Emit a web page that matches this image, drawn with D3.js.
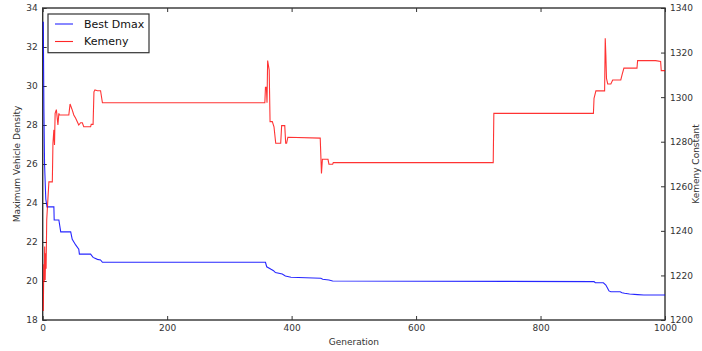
<!DOCTYPE html>
<html>
<head>
<meta charset="utf-8">
<script src="https://cdn.jsdelivr.net/npm/d3@7"></script>
<style>
  html, body { margin: 0; padding: 0; background: #fff; }
  svg { display: block; font-family: "DejaVu Sans", sans-serif; }
</style>
</head>
<body>
<svg id="chart" width="702" height="351"></svg>
<script>
// ---- Data ----
const dmaxGen = [0, 1, 2, 4, 6, 17, 17.5, 25, 28, 44, 46.5, 52, 57, 58, 76, 80, 87, 92, 95,
  357, 359, 366, 370, 373, 384, 389, 398, 446, 449, 459, 465,
  885, 887, 900, 904, 907, 909, 912, 927, 930, 934, 942, 955, 965, 1000];
const dmaxVal = [33.3, 28.8, 26.0, 24.2, 23.8, 23.8, 23.13, 23.13, 22.52, 22.52, 22.14, 21.85, 21.63, 21.38, 21.38, 21.21, 21.11, 21.08, 20.96,
  20.96, 20.73, 20.6, 20.53, 20.43, 20.36, 20.26, 20.19, 20.14, 20.09, 20.05, 20.0,
  19.97, 19.91, 19.91, 19.79, 19.62, 19.49, 19.45, 19.45, 19.40, 19.37, 19.33, 19.30, 19.28, 19.28];

const kemGen = [0, 0.8, 1.5, 2.2, 3, 3.8, 4.5, 5.5, 6.4, 9, 14.5, 15.5, 17, 18, 19, 21, 23.5, 25, 26, 41, 43, 46.6, 49, 52, 54.6, 57, 60, 62.7, 65, 76, 77, 80, 81.4, 83, 87, 92, 95,
  356, 357, 358.5, 359.5, 360.5, 363, 364.4, 368, 370.7, 373.5, 381.5, 383, 388, 389.5, 391, 393, 445,
  447, 448.5, 457.5, 459, 465, 466, 723, 724, 884, 885, 888, 902, 903, 904, 905, 907, 912, 915, 928, 930, 933, 954, 955, 984, 992, 993, 1000];
const kemVal = [1204, 1225, 1217, 1233, 1218, 1230, 1223, 1245, 1249.4, 1262, 1262, 1279.3, 1285.3, 1278.5, 1292.7, 1294.4, 1287.5, 1292.7, 1292, 1292, 1296.9, 1294.2, 1292, 1290.5, 1289, 1287.5, 1288.5, 1288.5, 1286.7, 1286.7, 1287.8, 1287.8, 1302.4, 1303.2, 1302.9, 1302.9, 1297.5,
  1297.5, 1304.4, 1304.4, 1297.5, 1316.4, 1312.2, 1289, 1289, 1286.7, 1279.3, 1279.3, 1287.2, 1287.2, 1279.3, 1279.3, 1282, 1281.6,
  1265.8, 1272.1, 1272.1, 1269.9, 1269.9, 1270.6, 1270.6, 1292.7, 1292.7, 1299.5, 1302.8, 1302.8, 1326.4, 1318.9, 1308.4, 1305.9, 1305.9, 1307.7, 1307.7, 1310, 1313, 1313, 1316.4, 1316.4, 1316, 1311.9, 1311.9];

const xTicks = [0, 200, 400, 600, 800, 1000];
const yLeftTicks = [18, 20, 22, 24, 26, 28, 30, 32, 34];
const yRightTicks = [1200, 1220, 1240, 1260, 1280, 1300, 1320, 1340];
const seriesNames = ["Best Dmax", "Kemeny"];
const seriesColors = ["#0000ff", "#ff0000"];

// ---- Layout ----
const svg = d3.select("#chart");
const L = 42.7, R = 665, T = 8, B = 320;
const x = d3.scaleLinear().domain([0, 1000]).range([L, R]);
const yL = d3.scaleLinear().domain([18, 34]).range([B, T]);
const yR = d3.scaleLinear().domain([1200, 1340]).range([B, T]);

const axisColor = "#333";
const textColor = "#333";

// axes
function styleAxis(sel) {
  sel.selectAll("path.domain").remove();
  sel.selectAll(".tick line").attr("stroke", axisColor).attr("stroke-width", 1);
  sel.selectAll(".tick text").attr("fill", textColor).style("font-size", "9px").style("font-family", "DejaVu Sans");
}
const xb = svg.append("g").attr("transform", `translate(0,${B})`)
  .call(d3.axisBottom(x).tickValues(xTicks).tickFormat(d3.format("d")).tickSizeInner(-4).tickSizeOuter(0).tickPadding(5));
styleAxis(xb);
const xt = svg.append("g").attr("transform", `translate(0,${T})`)
  .call(d3.axisTop(x).tickValues(xTicks).tickFormat("").tickSizeInner(-4).tickSizeOuter(0));
styleAxis(xt);
const yl = svg.append("g").attr("transform", `translate(${L},0)`)
  .call(d3.axisLeft(yL).tickValues(yLeftTicks).tickFormat(d3.format("d")).tickSizeInner(-4).tickSizeOuter(0).tickPadding(5));
styleAxis(yl);
const yr = svg.append("g").attr("transform", `translate(${R},0)`)
  .call(d3.axisRight(yR).tickValues(yRightTicks).tickFormat(d3.format("d")).tickSizeInner(-4).tickSizeOuter(0).tickPadding(5));
styleAxis(yr);

// frame
svg.append("rect").attr("x", L).attr("y", T).attr("width", R - L).attr("height", B - T)
  .attr("fill", "none").attr("stroke", axisColor).attr("stroke-width", 1.4);

// plot lines (clipped, drawn above frame)
svg.append("clipPath").attr("id", "clip").append("rect")
  .attr("x", L - 1).attr("y", T).attr("width", R - L + 1).attr("height", B - T);

const g = svg.append("g").attr("clip-path", "url(#clip)");
const dmaxData = dmaxGen.map((d, i) => [d, dmaxVal[i]]);
const kemData = kemGen.map((d, i) => [d, kemVal[i]]);

g.append("path").datum(dmaxData)
  .attr("fill", "none").attr("stroke", seriesColors[0]).attr("stroke-width", 1.1).attr("stroke-opacity", 0.85)
  .attr("d", d3.line().x(d => x(d[0]) + 0.6).y(d => yL(d[1])));
g.append("path").datum(kemData)
  .attr("fill", "none").attr("stroke", seriesColors[1]).attr("stroke-width", 1.1).attr("stroke-opacity", 0.8)
  .attr("d", d3.line().x(d => x(d[0]) + 0.6).y(d => yR(d[1])));

// axis labels
svg.append("text").attr("x", (L + R) / 2).attr("y", 345).attr("text-anchor", "middle")
  .attr("fill", textColor).style("font-size", "9px").text("Generation");
svg.append("text").attr("transform", `translate(16.5,${(T + B) / 2}) rotate(-90)`).attr("dy", "0.35em")
  .attr("text-anchor", "middle").attr("fill", textColor).style("font-size", "9px").text("Maximum Vehicle Density");
svg.append("text").attr("transform", `translate(696,${(T + B) / 2}) rotate(-90)`).attr("dy", "0.35em")
  .attr("text-anchor", "middle").attr("fill", textColor).style("font-size", "9px").text("Kemeny Constant");

// legend
const lg = svg.append("g");
lg.append("rect").attr("x", 48).attr("y", 14).attr("width", 101).attr("height", 38.7)
  .attr("fill", "#fff").attr("stroke", axisColor).attr("stroke-width", 1.2);
seriesNames.forEach((name, i) => {
  const yy = 24 + i * 17.5;
  lg.append("line").attr("x1", 55).attr("x2", 73).attr("y1", yy).attr("y2", yy)
    .attr("stroke", seriesColors[i]).attr("stroke-width", 1.1).attr("stroke-opacity", 0.85);
  lg.append("text").attr("x", 84).attr("y", yy).attr("dy", "0.35em")
    .attr("fill", "#111").style("font-size", "11px").text(name);
});
</script>
</body>
</html>
